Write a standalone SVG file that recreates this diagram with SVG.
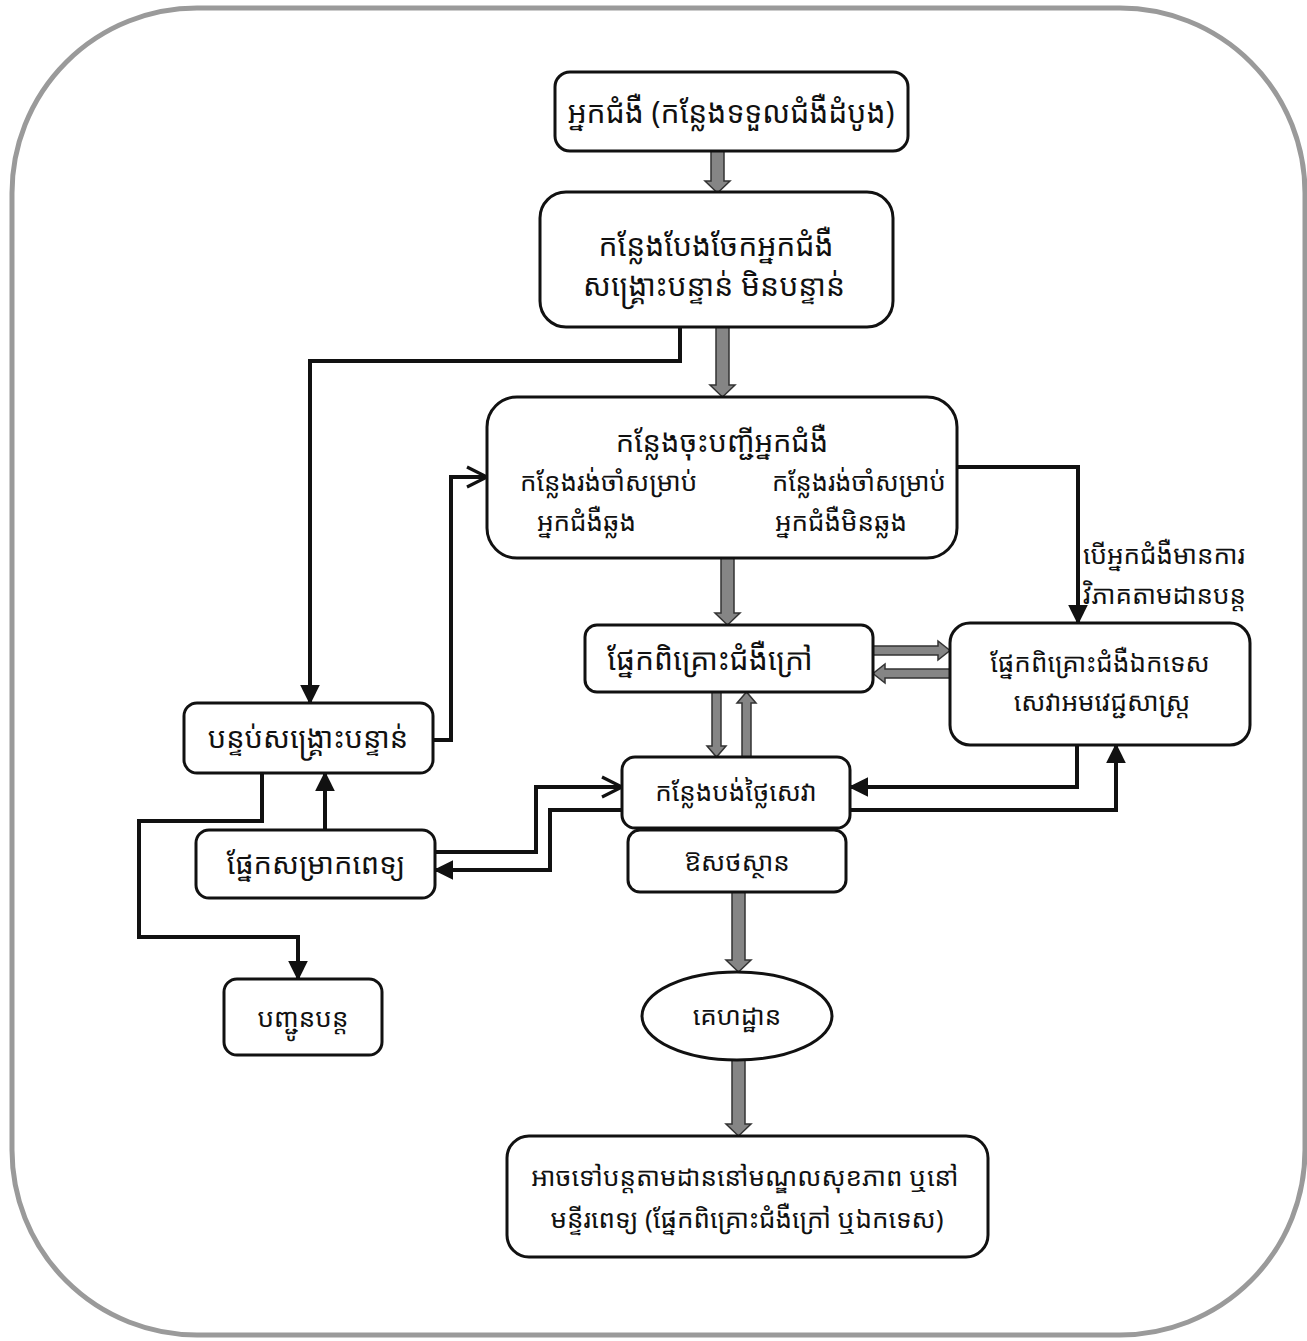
<svg xmlns="http://www.w3.org/2000/svg" width="1307" height="1341" viewBox="0 0 1307 1341">
<defs>
<style>
.frame{fill:#fff;stroke:#9a9a9a;stroke-width:5}
.box{fill:#fff;stroke:#111;stroke-width:3}
.t{font-family:"Noto Sans Khmer","Noto Serif Khmer","Khmer OS","Khmer OS System","Noto Sans","DejaVu Sans",sans-serif;font-size:26px;fill:#111;text-anchor:middle}
.b{font-size:30px}
.tl{text-anchor:start}
.ln{fill:none;stroke:#111;stroke-width:4;stroke-linejoin:miter}
.ga{fill:#858585;stroke:#333;stroke-width:1.5}
</style>
<marker id="fa" viewBox="0 0 12 12" refX="11" refY="6" markerWidth="5" markerHeight="5" orient="auto" markerUnits="strokeWidth"><path d="M0,0 L12,6 L0,12 z" fill="#111"/></marker>
<marker id="oa" viewBox="0 0 12 12" refX="11" refY="6" markerWidth="6" markerHeight="6" orient="auto" markerUnits="strokeWidth"><path d="M1,1 L11,6 L1,11" fill="none" stroke="#111" stroke-width="1.6"/></marker>
</defs>
<rect class="frame" x="12" y="8" width="1293" height="1327" rx="185"/>

<g id="connectors">
<path class="ga" d="M711,151 H724 V181 H730 L717.5,193 L705,181 H711 Z"/>
<path class="ga" d="M716,327 H729 V385 H735 L722.5,397 L710,385 H716 Z"/>
<path class="ga" d="M721,558 H734 V613 H740 L727.5,625 L715,613 H721 Z"/>
<path class="ga" d="M712,692 H721 V746 H726 L716.5,757 L707,746 H712 Z"/>
<path class="ga" d="M742,757 H751 V703 H756 L746.5,692 L737,703 H742 Z"/>
<path class="ga" d="M873,646 V655 H938 V660 L950,650.5 L938,641 V646 Z"/>
<path class="ga" d="M950,669 V678 H885 V683 L873,673.5 L885,664 V669 Z"/>
<path class="ga" d="M732,892 H745 V960 H751 L738.5,972 L726,960 H732 Z"/>
<path class="ga" d="M732,1060 H745 V1124 H751 L738.5,1136 L726,1124 H732 Z"/>
<path class="ln" marker-end="url(#fa)" d="M680,327 V361 H310 V703"/>
<path class="ln" marker-end="url(#oa)" d="M433,740 H451 V477 H487"/>
<path class="ln" marker-end="url(#fa)" d="M957,467 H1078 V623"/>
<path class="ln" marker-end="url(#fa)" d="M1077,745 V787 H850"/>
<path class="ln" marker-end="url(#fa)" d="M850,810 H1116 V745"/>
<path class="ln" marker-end="url(#oa)" d="M435,852 H536 V787 H622"/>
<path class="ln" marker-end="url(#fa)" d="M622,810 H550 V870 H435"/>
<path class="ln" marker-end="url(#fa)" d="M325,830 V773"/>
<path class="ln" marker-end="url(#fa)" d="M262,773 V821 H139 V937 H298 V979"/>
</g>

<g id="n1"><rect class="box" x="555" y="72" width="353" height="79" rx="15"/><text class="t b" x="731" y="123">អ្នកជំងឺ (កន្លែងទទួលជំងឺដំបូង)</text></g>
<g id="n2"><rect class="box" x="540" y="192" width="353" height="135" rx="26"/><text class="t b" x="716" y="256">កន្លែងបែងចែកអ្នកជំងឺ</text><text class="t b" x="714" y="296">សង្គ្រោះបន្ទាន់ មិនបន្ទាន់</text></g>
<g id="n3"><rect class="box" x="487" y="397" width="470" height="161" rx="30"/><text class="t" x="722" y="452" style="font-size:29px">កន្លែងចុះបញ្ជីអ្នកជំងឺ</text><text class="t tl" x="520" y="491">កន្លែងរង់ចាំសម្រាប់</text><text class="t tl" x="772" y="491" style="font-size:25.5px">កន្លែងរង់ចាំសម្រាប់</text><text class="t tl" x="537" y="531">អ្នកជំងឺឆ្លង</text><text class="t tl" x="775" y="531">អ្នកជំងឺមិនឆ្លង</text></g>
<g id="n4"><rect class="box" x="585" y="625" width="288" height="67" rx="12"/><text class="t b" x="710" y="670">ផ្នែកពិគ្រោះជំងឺក្រៅ</text></g>
<g id="n5"><rect class="box" x="950" y="623" width="300" height="122" rx="20"/><text class="t" x="1100" y="672">ផ្នែកពិគ្រោះជំងឺឯកទេស</text><text class="t" x="1102" y="711">សេវាអមវេជ្ជសាស្ត្រ</text></g>
<g id="n6"><rect class="box" x="184" y="703" width="249" height="70" rx="13"/><text class="t" x="308" y="748" style="font-size:29px">បន្ទប់សង្គ្រោះបន្ទាន់</text></g>
<g id="n7"><rect class="box" x="196" y="830" width="239" height="68" rx="13"/><text class="t" x="316" y="874" style="font-size:29px">ផ្នែកសម្រាកពេទ្យ</text></g>
<g id="n8"><rect class="box" x="622" y="757" width="228" height="71" rx="13"/><text class="t" x="736" y="801">កន្លែងបង់ថ្លៃសេវា</text></g>
<g id="n9"><rect class="box" x="628" y="830" width="218" height="62" rx="12"/><text class="t" x="737" y="871">ឱសថស្ថាន</text></g>
<g id="n10"><rect class="box" x="224" y="979" width="158" height="76" rx="13"/><text class="t" x="303" y="1027">បញ្ជូនបន្ត</text></g>
<g id="n11"><ellipse class="box" cx="737" cy="1016" rx="95" ry="44"/><text class="t" x="737" y="1025">គេហដ្ឋាន</text></g>
<g id="n12"><rect class="box" x="507" y="1136" width="481" height="121" rx="22"/><text class="t" x="745" y="1186">អាចទៅបន្តតាមដាននៅមណ្ឌលសុខភាព ឬនៅ</text><text class="t" x="747" y="1228">មន្ទីរពេទ្យ (ផ្នែកពិគ្រោះជំងឺក្រៅ ឬឯកទេស)</text></g>
<g id="label"><text class="t tl" x="1083" y="564">បើអ្នកជំងឺមានការ</text><text class="t tl" x="1083" y="604">វិភាគតាមដានបន្ត</text></g>
</svg>
